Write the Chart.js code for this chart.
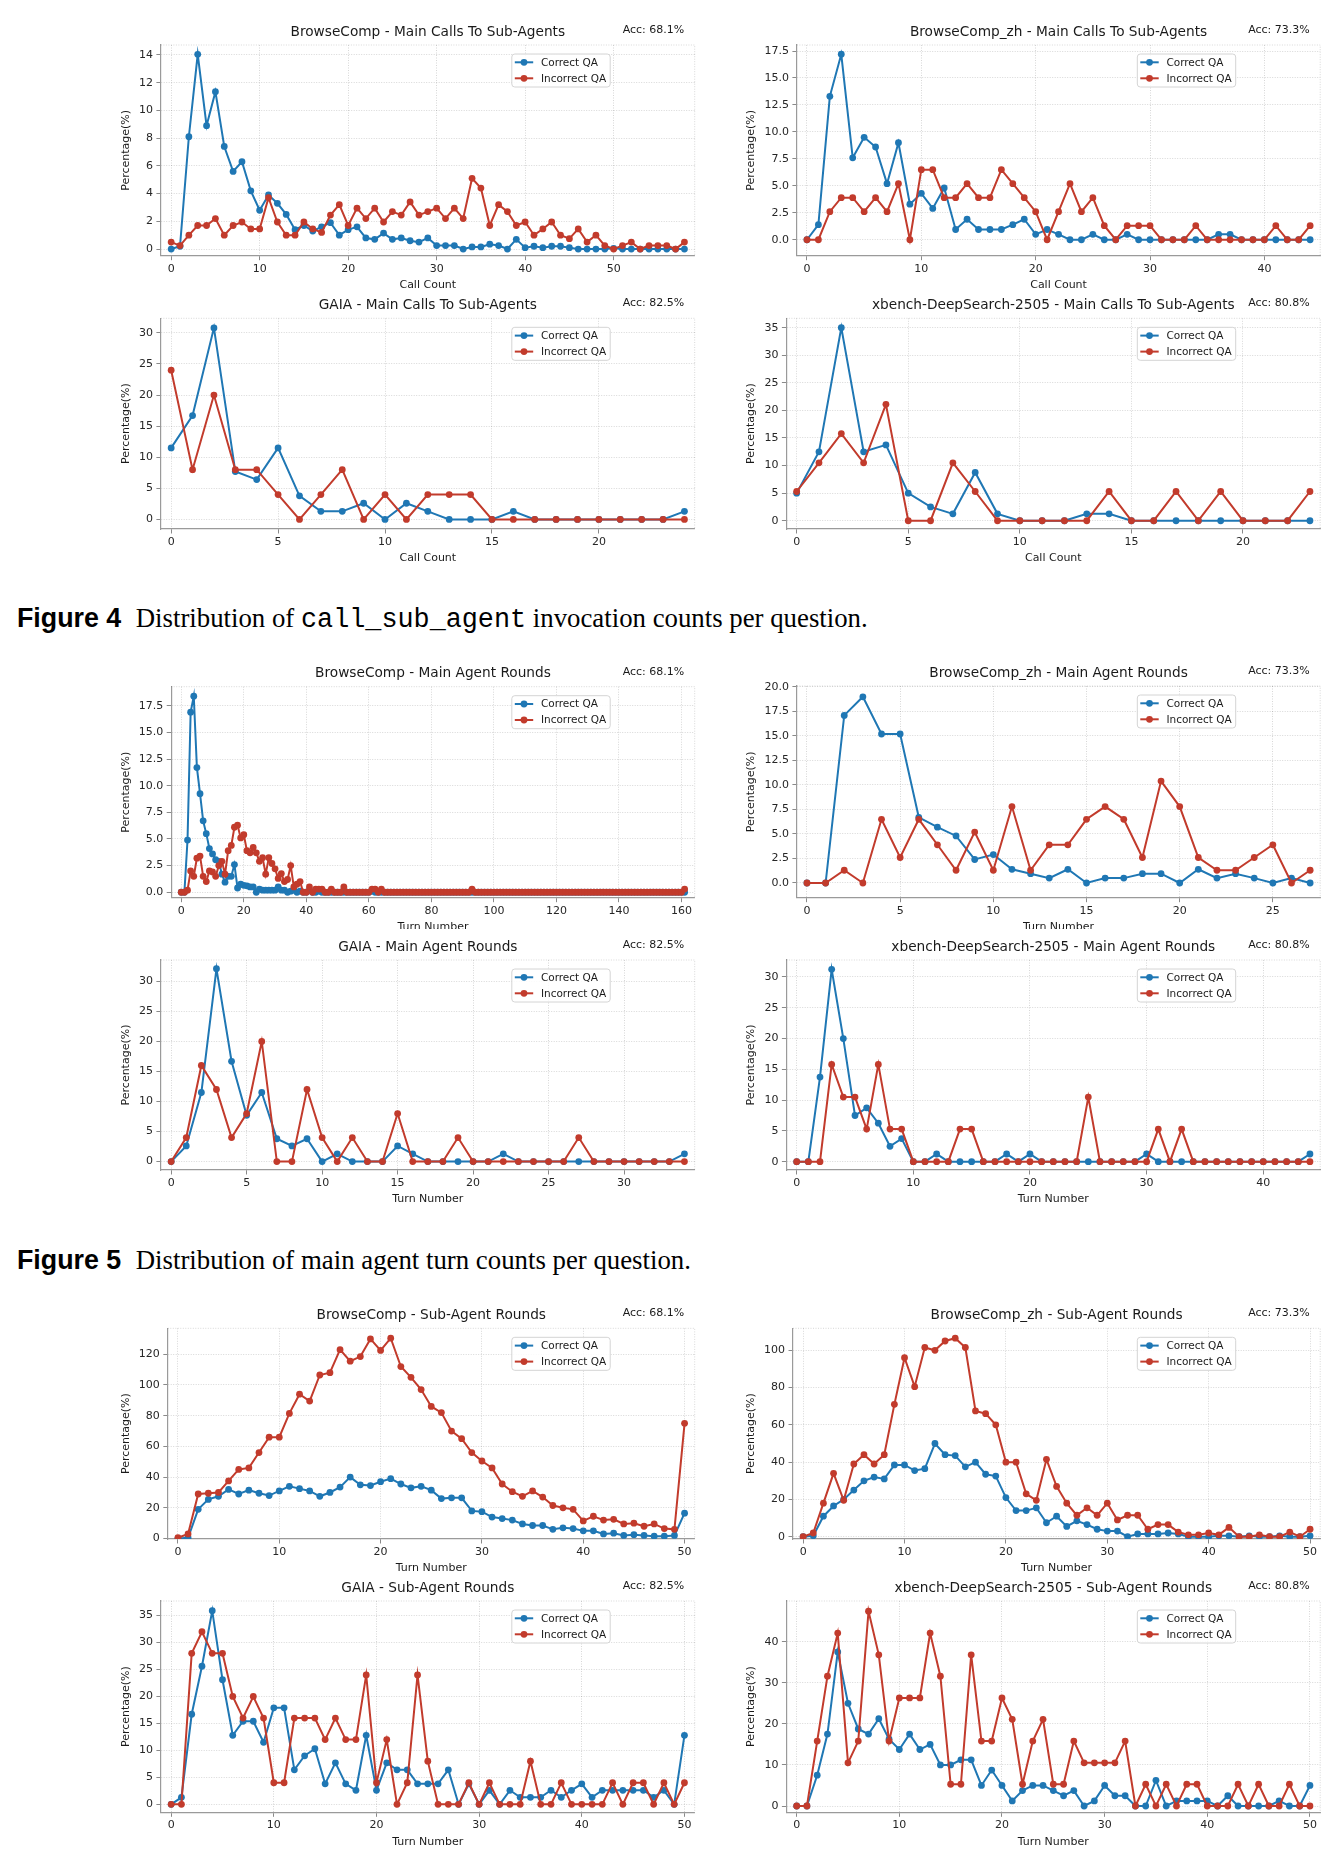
<!DOCTYPE html>
<html>
<head>
<meta charset="utf-8">
<script src="https://cdn.jsdelivr.net/npm/chart.js@4.4.1/dist/chart.umd.min.js"></script>
<style>
body{margin:0;background:#fff;width:1344px;height:1872px;position:relative;overflow:hidden}
canvas{position:absolute;background:#fff}
.cap{position:absolute;left:17px;font-size:26.8px;line-height:1;white-space:nowrap;font-family:"Liberation Serif",serif;color:#000}
.cap b{font-family:"Liberation Sans",Arial,sans-serif;font-weight:bold;margin-right:14.5px}
.cap code{font-family:"Liberation Mono",monospace;font-size:26.8px}
</style>
</head>
<body>
<div class="cap" style="top:605px"><b>Figure 4</b>Distribution of <code>call_sub_agent</code> invocation counts per question.</div>
<div class="cap" style="top:1247px"><b>Figure 5</b>Distribution of main agent turn counts per question.</div>
<script>
// ---- data (percentages) ----
const bcCallsCorrect = [0,0.2,8.1,14.05,8.9,11.35,7.4,5.6,6.3,4.2, 2.8,3.9,3.3,2.5,1.4,1.7,1.3,1.6,1.9,1.0, 1.4,1.6,0.8,0.7,1.15,0.7,0.8,0.6,0.5,0.8, 0.25,0.25,0.25,0,0.15,0.15,0.35,0.25,0,0.7, 0.1,0.2,0.1,0.2,0.2,0.1,0,0,0,0, 0.05,0,0,0,0,0,0,0,0];
const bcCallsIncorrect = [0.5,0.25,1.0,1.7,1.7,2.2,1.0,1.7,1.95,1.45, 1.45,3.7,1.95,1.0,1.0,1.95,1.45,1.2,2.45,3.2, 1.7,2.95,2.2,2.95,1.95,2.7,2.45,3.4,2.45,2.7, 2.95,2.2,2.95,2.2,5.1,4.4,1.7,3.2,2.7,1.7, 1.95,1.0,1.45,1.95,1.0,0.75,1.45,0.5,1.0,0.25, 0,0.25,0.5,0,0.25,0.25,0.25,0,0.5];

const zhCallsCorrect = [0,1.4,13.3,17.2,7.6,9.5,8.6,5.2,9.0,3.3, 4.3,2.9,4.8,0.95,1.9,0.95,0.95,0.95,1.4,1.9, 0.5,0.95,0.5,0,0,0.5,0,0,0.5,0, 0,0,0,0,0,0,0.5,0.5,0,0, 0,0,0,0,0];
const zhCallsIncorrect = [0,0,2.6,3.9,3.9,2.6,3.9,2.6,5.2,0, 6.5,6.5,3.9,3.9,5.2,3.9,3.9,6.5,5.2,3.9, 2.6,0,2.6,5.2,2.6,3.9,1.3,0,1.3,1.3, 1.3,0,0,0,1.3,0,0,0,0,0, 0,1.3,0,0,1.3];

const gaiaCallsCorrect = [11.5,16.7,30.8,7.7,6.4,11.5,3.8,1.3,1.3,2.6, 0,2.6,1.3,0,0,0,1.3,0,0,0, 0,0,0,0,1.3];
const gaiaCallsIncorrect = [24,8,20,8,8,4,0,4,8,0, 4,0,4,4,4,0,0,0,0,0, 0,0,0,0,0];

const xbCallsCorrect = [5.0,12.5,35.0,12.5,13.75,5.0,2.5,1.25,8.75,1.25, 0,0,0,1.25,1.25,0,0,0,0,0, 0,0,0,0];
const xbCallsIncorrect = [5.3,10.5,15.8,10.5,21.1,0,0,10.5,5.3,0, 0,0,0,0,5.3,0,0,5.3,0,5.3, 0,0,0,5.3];

const bcMainCorrect = [0,0,4.9,16.9,18.4,11.7,9.25,6.7,5.5,4.1,
  3.6,3.05,2.9,1.7,0.95,1.5,1.5,2.6,0.4,0.75,
  0.65,0.6,0.5,0.5,0,0.3,0.2,0.2,0.2,0.2,
  0.2,0.5,0.2,0.2,0,0.1,0.2,0,0.1,0,
  0,0.2,0,0,0.1,0,0,0,0,0,
  0,0,0,0,0,0,0,0,0,0,
  0,0.1,0,0,0,0,0,0,0,0,
  0,0,0,0,0,0,0,0,0,0,
  0,0,0,0,0,0,0,0,0,0,
  0,0,0,0,0,0,0,0,0,0,
  0,0,0,0,0,0,0,0,0,0,
  0,0,0,0,0,0,0,0,0,0,
  0,0,0,0,0,0,0,0,0,0,
  0,0,0,0,0,0,0,0,0,0,
  0,0,0,0,0,0,0,0,0,0,
  0,0,0,0,0,0,0,0,0,0,
  0,0];
const bcMainIncorrect = [0,0,0.2,2.0,1.5,3.2,3.4,1.5,1.0,2.0,
  1.9,1.5,2.5,2.9,1.7,3.9,4.4,6.1,6.3,5.1,
  5.4,3.9,3.7,4.2,3.7,2.9,3.25,1.7,3.25,2.7,
  2.2,1.3,1.75,1.0,1.2,2.5,0.5,0.75,1.0,0,
  0,0.5,0,0.3,0.3,0.3,0,0,0.3,0,
  0,0,0.5,0,0,0,0,0,0,0,
  0,0.3,0.3,0,0.3,0,0,0,0,0,
  0,0,0,0,0,0,0,0,0,0,
  0,0,0,0,0,0,0,0,0,0,
  0,0,0,0.3,0,0,0,0,0,0,
  0,0,0,0,0,0,0,0,0,0,
  0,0,0,0,0,0,0,0,0,0,
  0,0,0,0,0,0,0,0,0,0,
  0,0,0,0,0,0,0,0,0,0,
  0,0,0,0,0,0,0,0,0,0,
  0,0,0,0,0,0,0,0,0,0,
  0,0.3];

const zhMainCorrect = [0,0,17.1,19.0,15.2,15.2,6.7,5.7,4.8,2.4, 2.9,1.4,0.95,0.5,1.4,0,0.5,0.5,0.95,0.95, 0,1.4,0.5,0.95,0.5,0,0.5,0];
const zhMainIncorrect = [0,0,1.3,0,6.5,2.6,6.5,3.9,1.3,5.2, 1.3,7.8,1.3,3.9,3.9,6.5,7.8,6.5,2.6,10.4, 7.8,2.6,1.3,1.3,2.6,3.9,0,1.3];

const gaiaMainCorrect = [0,2.6,11.5,32.1,16.7,7.7,11.5,3.8,2.6,3.8, 0,1.3,0,0,0,2.6,1.3,0,0,0, 0,0,1.3,0,0,0,0,0,0,0, 0,0,0,0,1.3];
const gaiaMainIncorrect = [0,4,16,12,4,8,20,0,0,12, 4,0,4,0,0,8,0,0,0,4, 0,0,0,0,0,0,0,4,0,0, 0,0,0,0,0];

const xbMainCorrect = [0,0,13.75,31.25,20,7.5,8.75,6.25,2.5,3.75, 0,0,1.25,0,0,0,0,0,1.25,0, 1.25,0,0,0,0,0,0,0,0,0, 1.25,0,0,0,0,0,0,0,0,0, 0,0,0,0,1.25];
const xbMainIncorrect = [0,0,0,15.8,10.5,10.5,5.3,15.8,5.3,5.3, 0,0,0,0,5.3,5.3,0,0,0,0, 0,0,0,0,0,10.5,0,0,0,0, 0,5.3,0,5.3,0,0,0,0,0,0, 0,0,0,0,0];

const bcSubCorrect = [0,0.5,19,25.5,27.5,32,29,31.5,29.5,28, 31,34,32.5,31,27.5,30,33.5,40,35,34.5, 37,39,35.5,33,34,31.5,26,26.5,26.5,18, 17.5,14,13,12,9.5,8.5,8.5,6,7,6.5, 5,5,3,3.5,2,2.5,2,1.5,1.5,2, 16.5];
const bcSubIncorrect = [0.5,3,29,29.5,30,37.5,45,46,56,66, 66,81.5,94,89.5,106.5,108,123,115.5,118.5,130, 122.5,130.5,112,105,97,86,82,70,65,56, 50.5,46,35.5,30.5,27.5,31,27,21.5,20,19, 11.5,14.5,12,12.5,9.5,10,8,9.5,6.5,6, 75];

const zhSubCorrect = [0,0.5,11,16.5,20,25,30,32,31,38.5, 38.5,35.5,36.5,50,44,43.5,37.5,40,33.5,32.5, 21,14,14,15.5,7.5,11,5.5,8.5,6.5,4, 3,3,0,1.5,1.5,1.5,2,1.5,0,0, 0,0.5,0.5,0,0.5,0,0,0.5,0,0, 0.5];
const zhSubIncorrect = [0,2,18,34,19.5,39,44,39,44,71, 96,80.5,101.5,100,105,106.5,101.5,67.5,66,60, 40,40,23,19.5,41.5,27,18,11.5,15.5,11.5, 18,9,11.5,11.5,4,6.5,6.5,2.5,1,1, 2,1,5,0,0,1,0,0,2.5,0, 4];

const gaiaSubCorrect = [0,1.3,16.7,25.6,35.9,23.1,12.8,15.4,15.4,11.5, 17.9,17.9,6.4,9.0,10.3,3.8,7.7,3.8,2.6,12.8, 2.6,7.7,6.4,6.4,3.8,3.8,3.8,6.4,0,3.8, 0,2.6,0,2.6,1.3,1.3,1.3,2.6,1.3,2.6, 3.8,1.3,2.6,2.6,2.6,2.6,2.6,1.3,2.6,0, 12.8];
const gaiaSubIncorrect = [0,0,28,32,28,28,20,16,20,16, 4,4,16,16,16,12,16,12,12,24, 4,12,0,4,24,8,0,0,0,4, 0,4,0,0,0,8,0,0,4,0, 0,0,0,4,0,4,4,0,4,0, 4];

const xbSubCorrect = [0,0,7.5,17.5,37.5,25,18.75,17.5,21.25,16.25, 13.75,17.5,13.75,15,10,10,11.25,11.25,5,8.75, 5,1.25,3.75,5,5,3.75,2.5,3.75,0,1.25, 5,2.5,2.5,0,0,6.25,0,1.25,1.25,1.25, 1.25,0,2.5,0,0,0,0,1.25,0,0, 5];
const xbSubIncorrect = [0,0,15.8,31.6,42.1,10.5,15.8,47.4,36.8,15.8, 26.3,26.3,26.3,42.1,31.6,5.3,5.3,36.8,15.8,15.8, 26.3,21.1,5.3,15.8,21.1,5.3,5.3,15.8,10.5,10.5, 10.5,10.5,15.8,0,5.3,0,5.3,0,5.3,5.3, 0,0,0,5.3,0,5.3,0,0,5.3,0, 0];

// ---- tick labels ----
const xTicksBcCalls = [0,10,20,30,40,50];
const yTicksBcCalls = [0,2,4,6,8,10,12,14];
const xTicksZhCalls = [0,10,20,30,40];
const yTicksZhCalls = [0,2.5,5,7.5,10,12.5,15,17.5];
const xTicksGaiaCalls = [0,5,10,15,20];
const yTicksGaiaCalls = [0,5,10,15,20,25,30];
const xTicksXbCalls = [0,5,10,15,20];
const yTicksXbCalls = [0,5,10,15,20,25,30,35];
const xTicksBcMain = [0,20,40,60,80,100,120,140,160];
const yTicksBcMain = [0,2.5,5,7.5,10,12.5,15,17.5];
const xTicksZhMain = [0,5,10,15,20,25];
const yTicksZhMain = [0,2.5,5,7.5,10,12.5,15,17.5,20];
const xTicksGaiaMain = [0,5,10,15,20,25,30];
const yTicksGaiaMain = [0,5,10,15,20,25,30];
const xTicksXbMain = [0,10,20,30,40];
const yTicksXbMain = [0,5,10,15,20,25,30];
const xTicksSub = [0,10,20,30,40,50];
const yTicksBcSub = [0,20,40,60,80,100,120];
const yTicksZhSub = [0,20,40,60,80,100];
const yTicksGaiaSub = [0,5,10,15,20,25,30,35];
const yTicksXbSub = [0,10,20,30,40];

const seriesNames = ['Correct QA', 'Incorrect QA'];

const panels = [
  {title:'BrowseComp - Main Calls To Sub-Agents', acc:'Acc: 68.1%', c:bcCallsCorrect, w:bcCallsIncorrect, xLabel:'Call Count', xt:xTicksBcCalls, yt:yTicksBcCalls, dec:0},
  {title:'BrowseComp_zh - Main Calls To Sub-Agents', acc:'Acc: 73.3%', c:zhCallsCorrect, w:zhCallsIncorrect, xLabel:'Call Count', xt:xTicksZhCalls, yt:yTicksZhCalls, dec:1},
  {title:'GAIA - Main Calls To Sub-Agents', acc:'Acc: 82.5%', c:gaiaCallsCorrect, w:gaiaCallsIncorrect, xLabel:'Call Count', xt:xTicksGaiaCalls, yt:yTicksGaiaCalls, dec:0},
  {title:'xbench-DeepSearch-2505 - Main Calls To Sub-Agents', acc:'Acc: 80.8%', c:xbCallsCorrect, w:xbCallsIncorrect, xLabel:'Call Count', xt:xTicksXbCalls, yt:yTicksXbCalls, dec:0},
  {title:'BrowseComp - Main Agent Rounds', acc:'Acc: 68.1%', c:bcMainCorrect, w:bcMainIncorrect, xLabel:'Turn Number', xt:xTicksBcMain, yt:yTicksBcMain, dec:1},
  {title:'BrowseComp_zh - Main Agent Rounds', acc:'Acc: 73.3%', c:zhMainCorrect, w:zhMainIncorrect, xLabel:'Turn Number', xt:xTicksZhMain, yt:yTicksZhMain, dec:1},
  {title:'GAIA - Main Agent Rounds', acc:'Acc: 82.5%', c:gaiaMainCorrect, w:gaiaMainIncorrect, xLabel:'Turn Number', xt:xTicksGaiaMain, yt:yTicksGaiaMain, dec:0},
  {title:'xbench-DeepSearch-2505 - Main Agent Rounds', acc:'Acc: 80.8%', c:xbMainCorrect, w:xbMainIncorrect, xLabel:'Turn Number', xt:xTicksXbMain, yt:yTicksXbMain, dec:0},
  {title:'BrowseComp - Sub-Agent Rounds', acc:'Acc: 68.1%', c:bcSubCorrect, w:bcSubIncorrect, xLabel:'Turn Number', xt:xTicksSub, yt:yTicksBcSub, dec:0},
  {title:'BrowseComp_zh - Sub-Agent Rounds', acc:'Acc: 73.3%', c:zhSubCorrect, w:zhSubIncorrect, xLabel:'Turn Number', xt:xTicksSub, yt:yTicksZhSub, dec:0},
  {title:'GAIA - Sub-Agent Rounds', acc:'Acc: 82.5%', c:gaiaSubCorrect, w:gaiaSubIncorrect, xLabel:'Turn Number', xt:xTicksSub, yt:yTicksGaiaSub, dec:0},
  {title:'xbench-DeepSearch-2505 - Sub-Agent Rounds', acc:'Acc: 80.8%', c:xbSubCorrect, w:xbSubIncorrect, xLabel:'Turn Number', xt:xTicksSub, yt:yTicksXbSub, dec:0},
];

// ---- layout of each panel on the page (canvas box + plot area) ----
const layout = [
  {cx:120, top:12,   h:280, l:160.9, t:45,     r:694.7,  b:255.7,  x:[-1.16,59.16], y:[-0.48,14.72]},
  {cx:745, top:12,   h:280, l:796.9, t:45,     r:1320.2, b:255.7,  x:[-0.88,44.88], y:[-1.48,18.06]},
  {cx:120, top:288,  h:277, l:160.9, t:318.3,  r:694.7,  b:529,    x:[-0.48,24.48], y:[-1.54,32.34]},
  {cx:745, top:288,  h:277, l:786.4, t:318.3,  r:1320.2, b:529,    x:[-0.46,23.46], y:[-1.5,36.7]},
  {cx:120, top:650,  h:284, l:171.2, t:686.7,  r:694.7,  b:897.7,  x:[-3.22,164.22], y:[-0.51,19.29]},
  {cx:745, top:650,  h:284, l:796.9, t:686,    r:1320.2, b:897.7,  x:[-0.54,27.54], y:[-1.5,20.1]},
  {cx:120, top:929,  h:277, l:160.9, t:960,    r:694.7,  b:1170,   x:[-0.68,34.68], y:[-1.4,33.56]},
  {cx:745, top:929,  h:277, l:786.4, t:960,    r:1320.2, b:1170,   x:[-0.88,44.88], y:[-1.35,32.76]},
  {cx:120, top:1296, h:279, l:167.8, t:1328.3, r:694.7,  b:1539,   x:[-1,51], y:[-0.3,136.9]},
  {cx:745, top:1296, h:279, l:793.0, t:1328.3, r:1320.2, b:1539,   x:[-1,51], y:[-1.23,111.8]},
  {cx:120, top:1572, h:277, l:160.9, t:1601,   r:694.7,  b:1812.3, x:[-1,51], y:[-1.48,37.7]},
  {cx:745, top:1572, h:277, l:786.4, t:1601,   r:1320.2, b:1812.3, x:[-1,51], y:[-1.53,49.9]},
];

const BLUE = '#1f77b4', RED = '#c23b2c';
Chart.defaults.font.family = '"DejaVu Sans", sans-serif';
Chart.defaults.color = '#262626';

// title, accuracy note, top/right frame and the boxed legend
const decor = {
  id: 'decor',
  afterDraw(chart, args, opts) {
    const ctx = chart.ctx, a = chart.chartArea;
    ctx.save();
    ctx.strokeStyle = 'rgba(0,0,0,0.2)';
    ctx.lineWidth = 0.8;
    ctx.setLineDash([1, 1.5]);
    ctx.beginPath();
    ctx.moveTo(a.left, a.top); ctx.lineTo(a.right, a.top); ctx.lineTo(a.right, a.bottom);
    ctx.stroke();
    ctx.setLineDash([]);

    ctx.fillStyle = '#1a1a1a';
    ctx.textBaseline = 'middle';
    ctx.font = '13.7px "DejaVu Sans"';
    ctx.textAlign = 'center';
    ctx.fillText(opts.title, (a.left + a.right) / 2, a.top - 13);
    ctx.font = '11px "DejaVu Sans"';
    ctx.textAlign = 'right';
    ctx.fillText(opts.acc, a.right - 10.5, a.top - 15);

    // legend
    const ds = chart.data.datasets;
    ctx.font = '10.5px "DejaVu Sans"';
    const tw = Math.max(...ds.map(d => ctx.measureText(d.label).width));
    const w = 29.1 + tw + 4, h = 33;
    const x0 = a.right - 84.5 - w, y0 = a.top + 9;
    ctx.beginPath();
    if (ctx.roundRect) ctx.roundRect(x0, y0, w, h, 3); else ctx.rect(x0, y0, w, h);
    ctx.fillStyle = 'rgba(255,255,255,0.85)';
    ctx.fill();
    ctx.strokeStyle = '#d4d4d4';
    ctx.lineWidth = 1;
    ctx.stroke();
    ds.forEach((d, i) => {
      const cy = y0 + 8.3 + 16 * i;
      ctx.strokeStyle = d.borderColor;
      ctx.lineWidth = 2;
      ctx.beginPath(); ctx.moveTo(x0 + 3, cy); ctx.lineTo(x0 + 21.4, cy); ctx.stroke();
      ctx.fillStyle = d.borderColor;
      ctx.beginPath(); ctx.arc(x0 + 12.2, cy, 3.4, 0, Math.PI * 2); ctx.fill();
      ctx.fillStyle = '#1a1a1a';
      ctx.textAlign = 'left';
      ctx.fillText(d.label, x0 + 29.1, cy + 0.5);
    });
    ctx.restore();
  }
};

function makeSet(label, vals, color, order) {
  return {
    label: label,
    data: vals.map((v, i) => ({x: i, y: v})),
    borderColor: color, backgroundColor: color,
    pointBackgroundColor: color, pointBorderColor: color,
    borderWidth: 2, pointRadius: 3.4, pointBorderWidth: 0,
    tension: 0, order: order
  };
}

panels.forEach((p, k) => {
  const L = layout[k];
  const W = L.cx === 120 ? 600 : 595;
  const cv = document.createElement('canvas');
  cv.width = W; cv.height = L.h;
  cv.style.left = L.cx + 'px'; cv.style.top = L.top + 'px';
  document.body.appendChild(cv);

  const gridOpts = {color: 'rgba(0,0,0,0.2)', lineWidth: 0.8, tickLength: 4.5, tickColor: '#8a8a8a', tickWidth: 1};
  const borderOpts = {display: true, color: '#9a9a9a', width: 1.2, dash: [1, 1.5]};

  new Chart(cv, {
    type: 'line',
    data: {datasets: [makeSet(seriesNames[0], p.c, BLUE, 1), makeSet(seriesNames[1], p.w, RED, 0)]},
    options: {
      responsive: false, animation: false, devicePixelRatio: 1,
      layout: {padding: {left: 0, top: L.t - L.top, right: W - (L.r - L.cx), bottom: 0}},
      plugins: {legend: {display: false}, tooltip: {enabled: false}, decor: {title: p.title, acc: p.acc}},
      scales: {
        x: {
          type: 'linear', min: L.x[0], max: L.x[1],
          afterBuildTicks: s => { s.ticks = p.xt.map(v => ({value: v})); },
          afterFit: s => { s.height = L.top + L.h - L.b; },
          ticks: {autoSkip: false, maxRotation: 0, padding: 2, font: {size: 11}, color: '#262626'},
          grid: gridOpts, border: borderOpts,
          title: {display: true, text: p.xLabel, font: {size: 11}, color: '#1a1a1a', padding: 0}
        },
        y: {
          type: 'linear', min: L.y[0], max: L.y[1],
          afterBuildTicks: s => { s.ticks = p.yt.map(v => ({value: v})); },
          afterFit: s => { s.width = L.l - L.cx; },
          ticks: {autoSkip: false, padding: 3.5, font: {size: 11}, color: '#262626',
                  callback: v => v.toFixed(p.dec)},
          grid: gridOpts, border: borderOpts,
          title: {display: true, text: 'Percentage(%)', font: {size: 11}, color: '#1a1a1a', padding: 0}
        }
      }
    },
    plugins: [decor]
  });
});
</script>
</body>
</html>
